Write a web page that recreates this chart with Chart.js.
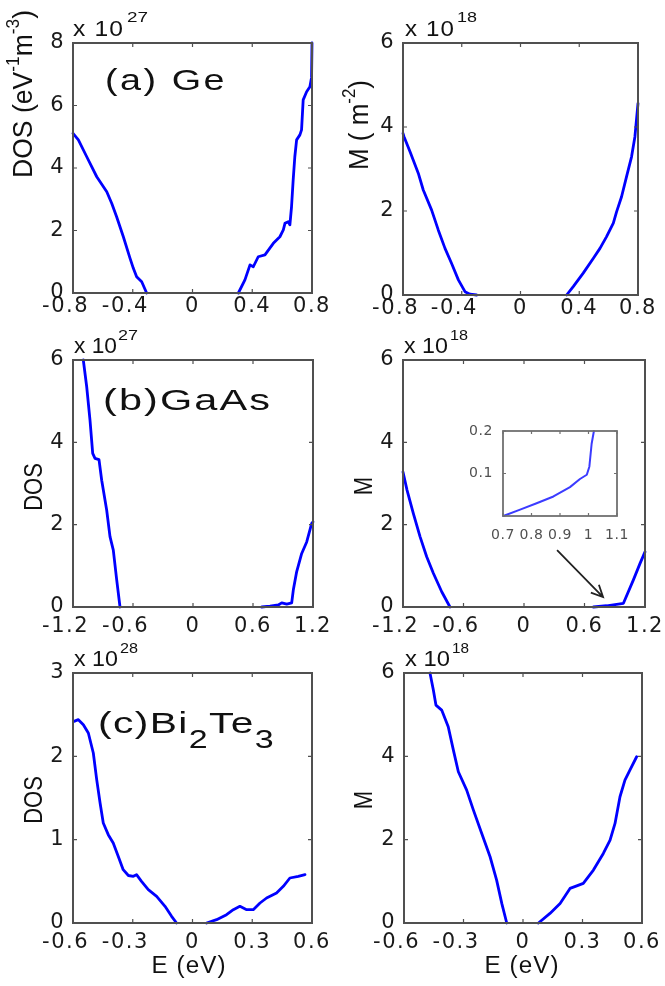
<!DOCTYPE html>
<html><head><meta charset="utf-8">
<script src="https://cdn.jsdelivr.net/npm/chart.js@4.4.1/dist/chart.umd.min.js"></script>
<style>
html,body{margin:0;padding:0;background:#fff;}
body{width:665px;height:986px;position:relative;overflow:hidden;}
canvas{position:absolute;}
</style></head><body>
<script>
// ---------------- DATA (null separates valence / conduction branches) ----------------
// (a) Ge : DOS in 1e27 eV^-1 m^-3
const geDosE = [-0.8,-0.764,-0.708,-0.641,-0.574,-0.541,-0.508,-0.463,-0.418,-0.396,-0.374,-0.34,-0.307, null,
  0.307,0.351,0.385,0.407,0.44,0.485,0.541,0.585,0.608,0.619,0.641,0.652,0.663,0.674,0.685,0.697,0.719,0.73,0.741,0.764,0.786,0.797,0.8];
const geDosV = [5.11,4.9,4.36,3.72,3.24,2.87,2.44,1.8,1.11,0.79,0.52,0.36,0, null,
  0,0.42,0.9,0.84,1.16,1.22,1.59,1.8,2.02,2.23,2.28,2.18,2.76,3.62,4.36,4.9,5.06,5.22,6.18,6.44,6.6,6.9,8.0];
// (a) Ge : M in 1e18 m^-2
const geME = [-0.8,-0.793,-0.752,-0.696,-0.662,-0.605,-0.56,-0.514,-0.469,-0.423,-0.378,-0.344,-0.299, null,
  0.314,0.359,0.427,0.495,0.541,0.586,0.632,0.654,0.688,0.722,0.756,0.779,0.8];
const geMV = [3.85,3.77,3.41,2.9,2.5,2.02,1.55,1.11,0.75,0.36,0.08,0.02,0, null,
  0,0.2,0.52,0.87,1.11,1.39,1.71,1.98,2.34,2.82,3.29,3.77,4.56];
// (b) GaAs : DOS in 1e27
const gaDosE = [-1.097,-1.063,-1.03,-1.003,-0.98,-0.94,-0.913,-0.863,-0.83,-0.797,-0.763,-0.73, null,
  0.687,0.77,0.853,0.887,0.937,0.987,1.003,1.037,1.087,1.137,1.187,1.2];
const gaDosV = [6.0,5.35,4.54,3.73,3.61,3.58,3.08,2.35,1.71,1.38,0.66,0, null,
  0,0.02,0.05,0.1,0.07,0.1,0.41,0.86,1.3,1.58,2.03,2.07];
// (b) GaAs : M in 1e18
const gaME = [-1.2,-1.16,-1.097,-1.031,-0.965,-0.899,-0.816,-0.734, null,
  0.688,0.82,0.986,1.085,1.151,1.2];
const gaMV = [3.28,2.84,2.27,1.71,1.22,0.82,0.37,0, null,
  0,0.03,0.09,0.66,1.06,1.34];
// (b) GaAs : inset M near band edge (1e18)
const gaInsetE = [0.701,0.76,0.818,0.877,0.935,0.97,0.994,1.003,1.011,1.019];
const gaInsetV = [0,0.015,0.03,0.046,0.068,0.087,0.097,0.116,0.17,0.2];
// (c) Bi2Te3 : DOS in 1e28
const biDosE = [-0.595,-0.573,-0.548,-0.523,-0.498,-0.481,-0.464,-0.448,-0.423,-0.398,-0.373,-0.348,-0.322,-0.297,-0.281,-0.256,-0.222,-0.18,-0.138,-0.105,-0.08, null,
  0.071,0.121,0.171,0.205,0.238,0.272,0.305,0.339,0.372,0.422,0.456,0.489,0.531,0.565];
const biDosV = [2.42,2.44,2.38,2.28,2.04,1.72,1.44,1.2,1.06,0.96,0.8,0.64,0.57,0.56,0.58,0.5,0.4,0.32,0.2,0.08,0, null,
  0,0.04,0.1,0.16,0.2,0.16,0.16,0.24,0.3,0.36,0.44,0.54,0.56,0.58];
// (c) Bi2Te3 : M in 1e18
const biME = [-0.469,-0.452,-0.439,-0.41,-0.377,-0.351,-0.326,-0.284,-0.25,-0.208,-0.166,-0.133,-0.107,-0.082, null,
  0.078,0.136,0.187,0.237,0.271,0.304,0.355,0.405,0.439,0.464,0.489,0.514,0.539,0.573];
const biMV = [6.0,5.59,5.23,5.11,4.71,4.15,3.63,3.19,2.71,2.15,1.59,1.03,0.47,0, null,
  0,0.23,0.47,0.83,0.89,0.95,1.27,1.67,1.99,2.39,3.03,3.43,3.67,3.99];

// ---------------- TICKS ----------------
const ticksGeX = [-0.8,-0.4,0,0.4,0.8];
const ticksGaX = [-1.2,-0.6,0,0.6,1.2];
const ticksBiX = [-0.6,-0.3,0,0.3,0.6];
const ticksY8 = [0,2,4,6,8];
const ticksY6 = [0,2,4,6];
const ticksY3 = [0,1,2,3];
const ticksInsetX = [0.7,0.8,0.9,1,1.1];
const ticksInsetY = [0.1,0.2];

// ---------------- RENDERING ----------------
const TXT = '"Liberation Sans", Arial, sans-serif';
const TICKF = '"DejaVu Sans", sans-serif';

function pts(E, V) {
  let last = 0;
  return E.map((e, i) => { if (e !== null) last = e; return {x: last, y: (e === null ? null : V[i])}; });
}
function fmt(v) { return String(parseFloat(v.toFixed(3))); }

function drawRich(ctx, it, ox, oy) {
  ctx.save();
  ctx.letterSpacing = (it.ls || 0) + 'px';
  let total = 0;
  const ws = it.segs.map(sg => { ctx.font = sg.s + 'px ' + TXT; const w = ctx.measureText(sg.t).width; total += w; return w; });
  const k = it.w ? it.w / total : 1;
  ctx.translate(it.x - ox, it.y - oy);
  if (it.rot) ctx.rotate(-Math.PI / 2);
  ctx.scale(k, it.cross || 1);
  let x0 = it.align === 'center' ? -total / 2 : 0;
  ctx.textAlign = 'left';
  ctx.textBaseline = it.base || 'alphabetic';
  ctx.fillStyle = it.color || '#111';
  it.segs.forEach((sg, i) => { ctx.font = sg.s + 'px ' + TXT; ctx.fillText(sg.t, x0, sg.dy || 0); x0 += ws[i]; });
  ctx.restore();
}

function makePanel(p) {
  const cv = document.createElement('canvas');
  const W = p.PL + (p.area.r - p.area.l) + p.PR;
  const H = p.PT + (p.area.b - p.area.t) + p.PB;
  const ox = p.area.l - p.PL, oy = p.area.t - p.PT;
  cv.width = W; cv.height = H;
  cv.style.left = ox + 'px'; cv.style.top = oy + 'px';
  cv.style.width = W + 'px'; cv.style.height = H + 'px';
  document.body.appendChild(cv);

  const tickFont = {family: TICKF, size: p.tickSize};
  const deco = {
    id: 'deco' + p.id,
    beforeDraw(chart) { chart.ctx.letterSpacing = p.ls + 'px'; },
    beforeDatasetsDraw(chart) { chart.ctx.letterSpacing = '0px'; },
    afterDraw(chart) {
      const ctx = chart.ctx, a = chart.chartArea, sx = chart.scales.x, sy = chart.scales.y;
      ctx.save();
      ctx.letterSpacing = '0px';
      ctx.strokeStyle = p.boxColor; ctx.lineWidth = p.boxW;
      ctx.strokeRect(a.left, a.top, a.right - a.left, a.bottom - a.top);
      ctx.lineWidth = 1.2;
      ctx.beginPath();
      sx.ticks.forEach(t => { const px = sx.getPixelForValue(t.value);
        ctx.moveTo(px, a.bottom); ctx.lineTo(px, a.bottom - p.tl);
        ctx.moveTo(px, a.top); ctx.lineTo(px, a.top + p.tl); });
      sy.ticks.forEach(t => { const py = sy.getPixelForValue(t.value);
        ctx.moveTo(a.left, py); ctx.lineTo(a.left + p.tl, py);
        ctx.moveTo(a.right, py); ctx.lineTo(a.right - p.tl, py); });
      ctx.stroke();
      if (p.arrow) {
        const x1 = sx.getPixelForValue(p.arrow[0]), y1 = sy.getPixelForValue(p.arrow[1]);
        const x2 = sx.getPixelForValue(p.arrow[2]), y2 = sy.getPixelForValue(p.arrow[3]);
        const ang = Math.atan2(y2 - y1, x2 - x1), L = 13, s = 0.45;
        ctx.strokeStyle = '#222'; ctx.lineWidth = 1.8;
        ctx.beginPath();
        ctx.moveTo(x1, y1); ctx.lineTo(x2, y2);
        ctx.moveTo(x2 - L * Math.cos(ang - s), y2 - L * Math.sin(ang - s));
        ctx.lineTo(x2, y2);
        ctx.lineTo(x2 - L * Math.cos(ang + s), y2 - L * Math.sin(ang + s));
        ctx.stroke();
      }
      ctx.restore();
      (p.texts || []).forEach(it => drawRich(ctx, it, ox, oy));
    }
  };

  new Chart(cv, {
    type: 'scatter',
    data: { datasets: p.series.map(s => ({
      data: pts(s.E, s.V), showLine: true, borderColor: p.lineColor, backgroundColor: p.lineColor,
      borderWidth: p.lw, pointRadius: 0, pointHoverRadius: 0, tension: 0, spanGaps: false, clip: 5,
      borderJoinStyle: 'round', borderCapStyle: 'round' })) },
    options: {
      responsive: false, animation: false, events: [], devicePixelRatio: 1,
      layout: { padding: { left: 0, top: p.PT, right: p.PR, bottom: 0 } },
      plugins: { legend: { display: false }, tooltip: { enabled: false } },
      scales: {
        x: {
          type: 'linear', min: p.x[0], max: p.x[1],
          grid: { display: false }, border: { display: false },
          afterBuildTicks: sc => { sc.ticks = p.xt.map(v => ({value: v})); },
          afterFit: sc => { sc.height = p.PB; sc.paddingLeft = 0; sc.paddingRight = 0; },
          ticks: { font: tickFont, color: p.tickColor, padding: p.xpad, maxRotation: 0, autoSkip: false,
            callback: v => (v < 0 ? fmt(v) + '\u2007' : fmt(v)) }
        },
        y: {
          type: 'linear', min: p.y[0], max: p.y[1],
          grid: { display: false }, border: { display: false },
          afterBuildTicks: sc => { sc.ticks = p.yt.map(v => ({value: v})); },
          afterFit: sc => { sc.width = p.PL; sc.paddingTop = 0; sc.paddingBottom = 0; },
          ticks: { font: tickFont, color: p.tickColor, padding: p.ypad, autoSkip: false,
            callback: v => fmt(v) }
        }
      }
    },
    plugins: [deco]
  });
}

const base = { PR: 22, PB: 62, tickSize: 21, tickColor: '#1a1a1a', ls: 1.5, xpad: -1, ypad: 0,
  lineColor: '#0000ff', lw: 2.8, boxColor: '#505050', boxW: 2, tl: 4 };
const sup = (t) => ({t: t, s: 15, dy: -8});

const panels = [
  Object.assign({}, base, { id: 'A1', area: {l: 73, t: 43, r: 312, b: 293}, PL: 73, PT: 43, xpad: -7,
    x: [-0.8, 0.8], y: [0, 8], xt: ticksGeX, yt: ticksY8,
    series: [{E: geDosE, V: geDosV}],
    texts: [
      {x: 73, y: 36, segs: [{t: 'x 10', s: 22}], w: 51, ls: 1},
      {x: 127, y: 22, segs: [{t: '27', s: 15}], w: 21},
      {x: 105, y: 90, segs: [{t: '(a) Ge', s: 30}], w: 122, ls: 2},
      {x: 24, y: 94, rot: true, align: 'center', base: 'middle', cross: 1.2, w: 168,
        segs: [{t: 'DOS (eV', s: 23}, sup('-1'), {t: 'm', s: 23}, sup('-3'), {t: ')', s: 23}]}
    ] }),
  Object.assign({}, base, { id: 'A2', area: {l: 403, t: 43, r: 638, b: 295}, PL: 73, PT: 43, xpad: -7,
    x: [-0.8, 0.8], y: [0, 6], xt: ticksGeX, yt: ticksY6,
    series: [{E: geME, V: geMV}],
    texts: [
      {x: 405, y: 36, segs: [{t: 'x 10', s: 22}], w: 50, ls: 1},
      {x: 457, y: 22, segs: [{t: '18', s: 15}], w: 20},
      {x: 360, y: 125, rot: true, align: 'center', base: 'middle', cross: 1.2, w: 90,
        segs: [{t: 'M ( m', s: 23}, sup('-2'), {t: ')', s: 23}]}
    ] }),
  Object.assign({}, base, { id: 'B1', area: {l: 73, t: 360, r: 313, b: 607}, PL: 73, PT: 45,
    x: [-1.2, 1.2], y: [0, 6], xt: ticksGaX, yt: ticksY6,
    series: [{E: gaDosE, V: gaDosV}],
    texts: [
      {x: 74, y: 353, segs: [{t: 'x 10', s: 22}], w: 43},
      {x: 118, y: 340, segs: [{t: '27', s: 15}], w: 20},
      {x: 103, y: 410, segs: [{t: '(b)GaAs', s: 30}], w: 169, ls: 1.5},
      {x: 35, y: 487, rot: true, align: 'center', base: 'middle', cross: 1.2,
        segs: [{t: 'DOS', s: 22}]}
    ] }),
  Object.assign({}, base, { id: 'B2', area: {l: 403, t: 360, r: 645, b: 607}, PL: 73, PT: 45,
    x: [-1.2, 1.2], y: [0, 6], xt: ticksGaX, yt: ticksY6,
    series: [{E: gaME, V: gaMV}],
    arrow: [0.328, 1.38, 0.784, 0.24],
    texts: [
      {x: 404, y: 353, segs: [{t: 'x 10', s: 22}], w: 44},
      {x: 450, y: 340, segs: [{t: '18', s: 15}], w: 18},
      {x: 365, y: 486, rot: true, align: 'center', base: 'middle', cross: 1.2,
        segs: [{t: 'M', s: 22}]}
    ] }),
  Object.assign({}, base, { id: 'C1', area: {l: 73, t: 673, r: 312, b: 923}, PL: 73, PT: 45,
    x: [-0.6, 0.6], y: [0, 3], xt: ticksBiX, yt: ticksY3,
    series: [{E: biDosE, V: biDosV}],
    texts: [
      {x: 74, y: 666, segs: [{t: 'x 10', s: 22}], w: 44},
      {x: 120, y: 653, segs: [{t: '28', s: 15}], w: 18},
      {x: 98, y: 733, w: 177, ls: 1, segs: [{t: '(c)Bi', s: 30}, {t: '2', s: 25, dy: 15}, {t: 'Te', s: 30}, {t: '3', s: 25, dy: 15}]},
      {x: 35, y: 800, rot: true, align: 'center', base: 'middle', cross: 1.2,
        segs: [{t: 'DOS', s: 22}]},
      {x: 189, y: 967, align: 'center', base: 'middle', w: 75, ls: 1, segs: [{t: 'E (eV)', s: 23}]}
    ] }),
  Object.assign({}, base, { id: 'C2', area: {l: 404, t: 673, r: 642, b: 923}, PL: 74, PT: 45,
    x: [-0.6, 0.6], y: [0, 6], xt: ticksBiX, yt: ticksY6,
    series: [{E: biME, V: biMV}],
    texts: [
      {x: 405, y: 666, segs: [{t: 'x 10', s: 22}], w: 45},
      {x: 452, y: 653, segs: [{t: '18', s: 15}], w: 17},
      {x: 365, y: 800, rot: true, align: 'center', base: 'middle', cross: 1.2,
        segs: [{t: 'M', s: 22}]},
      {x: 522, y: 967, align: 'center', base: 'middle', w: 75, ls: 1, segs: [{t: 'E (eV)', s: 23}]}
    ] }),
  Object.assign({}, base, { id: 'IN', area: {l: 503, t: 431, r: 617, b: 516}, PL: 33, PT: 14, PR: 22, PB: 30,
    x: [0.7, 1.1], y: [0, 0.2], xt: ticksInsetX, yt: ticksInsetY,
    tickSize: 14, tickColor: '#505050', ls: 0.6, xpad: 3, ypad: 2,
    lineColor: '#3b3bff', lw: 2, boxColor: '#707070', boxW: 1.8, tl: 3,
    series: [{E: gaInsetE, V: gaInsetV}], texts: [] })
];

panels.forEach(makePanel);
</script>
</body></html>
